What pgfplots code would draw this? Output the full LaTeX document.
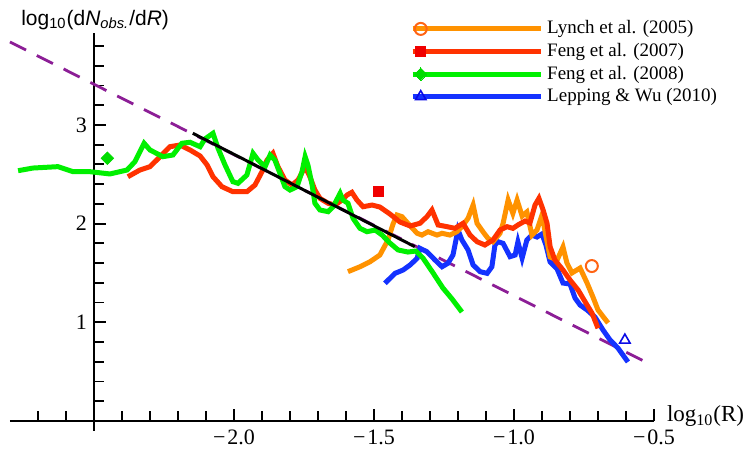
\documentclass[border=0pt]{standalone}
\usepackage{fontspec}
\setmainfont{Liberation Serif}
\newfontfamily\sansf{Liberation Sans}
\usepackage{pgfplots}
\pgfplotsset{compat=1.18}

\definecolor{lynch}{RGB}{255,146,0}
\definecolor{lynchmk}{RGB}{255,100,20}
\definecolor{fengA}{RGB}{255,50,0}
\definecolor{fengAmk}{RGB}{240,0,0}
\definecolor{fengB}{RGB}{0,240,0}
\definecolor{fengBmk}{RGB}{0,220,0}
\definecolor{lepping}{RGB}{20,50,255}
\definecolor{leppingmk}{RGB}{10,10,230}
\definecolor{fitpurple}{RGB}{140,30,150}

\begin{document}
\begin{tikzpicture}
\begin{axis}[
  x=140pt, y=49.35pt,
  xmin=-2.5, xmax=-0.5, ymin=-0.1, ymax=3.93,
  axis x line=middle, axis y line=left,
  axis line style={-, line width=0.8pt, black},
  clip=false,
  xtick={-2,-1.5,-1,-0.5},
  xticklabels={−\kern1pt2.0,−\kern1pt1.5,−\kern1pt1.0,−\kern1pt0.5},
  minor xtick={-2.4,-2.3,-2.2,-2.1,-1.9,-1.8,-1.7,-1.6,-1.4,-1.3,-1.2,-1.1,-0.9,-0.8,-0.7,-0.6},
  ytick={1,2,3}, yticklabels={1,2,3},
  minor ytick={0.2,0.4,0.6,0.8,1.2,1.4,1.6,1.8,2.2,2.4,2.6,2.8,3.2,3.4,3.6,3.8},
  xtick align=inside, ytick align=inside,
  major tick style={black, line width=0.9pt},
  minor tick style={black, line width=0.9pt},
  major tick length=6pt, minor tick length=5pt,
  ticklabel style={font=\fontsize{11}{13}\selectfont},
  xticklabel style={yshift=-1pt},
  legend style={at={(0.564,1.042)}, anchor=north west, draw=none, fill=none,
    font=\fontsize{9.5}{11}\selectfont, row sep=-0.8pt, inner sep=0pt},
  legend cell align=left,
  legend image code/.code={
    \path (-4pt,0pt) -- (60pt,0pt);
    \draw[#1, mark=none] (8pt,0pt) -- (41pt,0pt);
    \draw[#1] plot coordinates {(0pt,0pt)};
  },
]
\addlegendimage{lynch, line width=2.5pt, mark=o, mark options={lynchmk, line width=1pt, mark size=3pt}}
\addlegendentry{Lynch et al. (2005)}
\addlegendimage{fengA, line width=2.5pt, mark=square*, mark options={fengAmk, fill=fengAmk, line width=0pt, mark size=2.5pt}}
\addlegendentry{Feng et al. (2007)}
\addlegendimage{fengB, line width=2.5pt, mark=square*, mark options={fengBmk, fill=fengBmk, line width=0pt, mark size=2.2pt, rotate=45}}
\addlegendentry{Feng et al. (2008)}
\addlegendimage{lepping, line width=2.5pt, mark=triangle, mark options={leppingmk, line width=0.8pt, mark size=3pt}}
\addlegendentry{Lepping \& Wu (2010)}

% fitted power law, dashed
\addplot[fitpurple, line width=1.4pt, dash pattern=on 9pt off 6pt, no markers, forget plot] coordinates {(-2.80,3.84) (-0.51,0.57)};

% Lepping & Wu (2010)
\addplot[lepping, line width=2.5pt, no markers, forget plot] coordinates {
(-1.461,1.395) (-1.425,1.496) (-1.396,1.530) (-1.371,1.581) (-1.346,1.648)
(-1.336,1.750) (-1.311,1.715) (-1.282,1.631) (-1.257,1.563) (-1.236,1.598)
(-1.218,1.682) (-1.200,1.935) (-1.186,1.834) (-1.164,1.733) (-1.146,1.581)
(-1.121,1.513) (-1.096,1.496) (-1.079,1.563) (-1.068,1.783) (-1.057,1.817)
(-1.039,1.800) (-1.014,1.665) (-0.996,1.682) (-0.986,1.814) (-0.971,1.651)
(-0.954,1.834) (-0.936,1.884) (-0.918,1.864) (-0.900,1.895) (-0.886,1.783)
(-0.871,1.611) (-0.846,1.540) (-0.825,1.398) (-0.800,1.388) (-0.782,1.246)
(-0.764,1.175) (-0.739,1.125) (-0.711,1.054) (-0.682,0.922) (-0.657,0.821)
(-0.629,0.740) (-0.593,0.598)
};
% Lynch et al. (2005)
\addplot[lynch, line width=2.5pt, no markers, forget plot] coordinates {
(-1.593,1.513) (-1.550,1.563) (-1.514,1.614) (-1.479,1.682) (-1.450,1.834)
(-1.432,1.996) (-1.418,2.087) (-1.400,2.070) (-1.379,2.003) (-1.346,1.902)
(-1.329,1.884) (-1.307,1.918) (-1.275,1.884) (-1.257,1.902) (-1.229,1.884)
(-1.204,1.918) (-1.186,1.969) (-1.164,2.054) (-1.146,2.188) (-1.132,2.003)
(-1.111,1.918) (-1.093,1.851) (-1.075,1.817) (-1.050,1.902) (-1.039,2.003)
(-1.021,2.239) (-1.004,2.104) (-0.989,2.239) (-0.971,2.077) (-0.954,2.118)
(-0.936,1.884) (-0.918,1.935) (-0.900,2.087) (-0.886,1.874) (-0.871,1.662)
(-0.846,1.631) (-0.825,1.763) (-0.811,1.601) (-0.793,1.500) (-0.764,1.550)
(-0.739,1.398) (-0.718,1.256) (-0.700,1.125) (-0.664,0.993)
};
% Feng et al. (2007)
\addplot[fengA, line width=2.5pt, no markers, forget plot] coordinates {
(-2.379,2.475) (-2.336,2.543) (-2.300,2.577) (-2.264,2.678) (-2.229,2.779)
(-2.193,2.796) (-2.157,2.746) (-2.121,2.685) (-2.096,2.594) (-2.075,2.475)
(-2.043,2.374) (-2.004,2.323) (-1.954,2.323) (-1.925,2.391) (-1.900,2.526)
(-1.882,2.644) (-1.861,2.712) (-1.843,2.577) (-1.818,2.442) (-1.793,2.391)
(-1.771,2.442) (-1.746,2.577) (-1.729,2.475) (-1.711,2.340) (-1.693,2.256)
(-1.664,2.206) (-1.639,2.188) (-1.614,2.239) (-1.596,2.290) (-1.579,2.317)
(-1.561,2.239) (-1.539,2.171) (-1.507,2.188) (-1.479,2.168) (-1.443,2.097)
(-1.407,2.016) (-1.371,1.976) (-1.336,2.003) (-1.311,2.070) (-1.293,2.138)
(-1.271,1.986) (-1.239,1.969) (-1.211,1.952) (-1.182,2.003) (-1.157,1.884)
(-1.132,1.817) (-1.104,1.783) (-1.075,1.834) (-1.050,1.935) (-1.025,1.969)
(-1.004,1.952) (-0.986,1.986) (-0.961,2.026) (-0.943,2.006) (-0.925,2.188)
(-0.911,2.256) (-0.896,2.138) (-0.882,2.003) (-0.871,1.766) (-0.854,1.631)
(-0.825,1.530) (-0.800,1.429) (-0.771,1.327) (-0.739,1.175) (-0.721,1.091)
(-0.700,0.939)
};
% Feng et al. (2008)
\addplot[fengB, line width=2.5pt, no markers, forget plot] coordinates {
(-2.771,2.536) (-2.718,2.563) (-2.629,2.577) (-2.575,2.526) (-2.514,2.526)
(-2.443,2.503) (-2.382,2.543) (-2.354,2.627) (-2.321,2.814) (-2.300,2.746)
(-2.254,2.678) (-2.218,2.695) (-2.186,2.814) (-2.157,2.824) (-2.121,2.779)
(-2.104,2.857) (-2.075,2.915) (-2.057,2.763) (-2.032,2.594) (-2.004,2.425)
(-1.986,2.408) (-1.954,2.492) (-1.932,2.712) (-1.914,2.644) (-1.889,2.577)
(-1.871,2.695) (-1.854,2.644) (-1.836,2.510) (-1.818,2.374) (-1.800,2.340)
(-1.775,2.374) (-1.757,2.526) (-1.746,2.678) (-1.736,2.594) (-1.721,2.391)
(-1.711,2.206) (-1.693,2.138) (-1.664,2.121) (-1.646,2.171) (-1.621,2.307)
(-1.611,2.239) (-1.593,2.206) (-1.575,2.054) (-1.550,1.952) (-1.525,1.918)
(-1.496,1.935) (-1.471,1.884) (-1.443,1.803) (-1.414,1.733) (-1.379,1.712)
(-1.350,1.722) (-1.325,1.651) (-1.289,1.500) (-1.254,1.348) (-1.221,1.236)
(-1.186,1.104)
};
% fitted segment
\addplot[black, line width=1.5pt, no markers, forget plot] coordinates {(-2.147,2.915) (-1.354,1.766)};
% single markers
\addplot[only marks, mark=o, lynchmk, mark options={line width=1pt}, mark size=3pt, forget plot] coordinates {(-0.722,1.570)};
\addplot[only marks, mark=square*, fengAmk, mark size=2.5pt, forget plot] coordinates {(-1.485,2.323)};
\addplot[only marks, mark=square*, fengBmk, mark options={rotate=45}, mark size=2.2pt, forget plot] coordinates {(-2.452,2.662)};
\addplot[only marks, mark=triangle, leppingmk, mark options={line width=0.8pt}, mark size=3pt, forget plot] coordinates {(-0.604,0.820)};

% x axis continued to the left of the y axis
\draw[line width=0.8pt, black] (axis cs:-2.8,0) -- (axis cs:-2.5,0);
\draw[line width=0.9pt, black] (axis cs:-2.7,0) -- ++(0pt,5pt);
\draw[line width=0.9pt, black] (axis cs:-2.6,0) -- ++(0pt,5pt);

\node[font=\sansf\fontsize{10.5}{13}\selectfont] at (axis cs:-2.496,4.06)
  {log\textsubscript{10}(d\textit{N}\textsubscript{\textit{obs.}}/d\textit{R})};
\node[anchor=base west, font=\fontsize{11.5}{13}\selectfont, inner sep=0pt] at (axis cs:-0.455,-0.01)
  {log\textsubscript{10}(R)};

\coordinate (bl) at (axis cs:-2.8357,-0.2736);
\coordinate (tr) at (axis cs:-0.1607,4.2655);
\end{axis}
\pgfresetboundingbox
\path[use as bounding box] (bl) rectangle (tr);
\end{tikzpicture}
\end{document}
